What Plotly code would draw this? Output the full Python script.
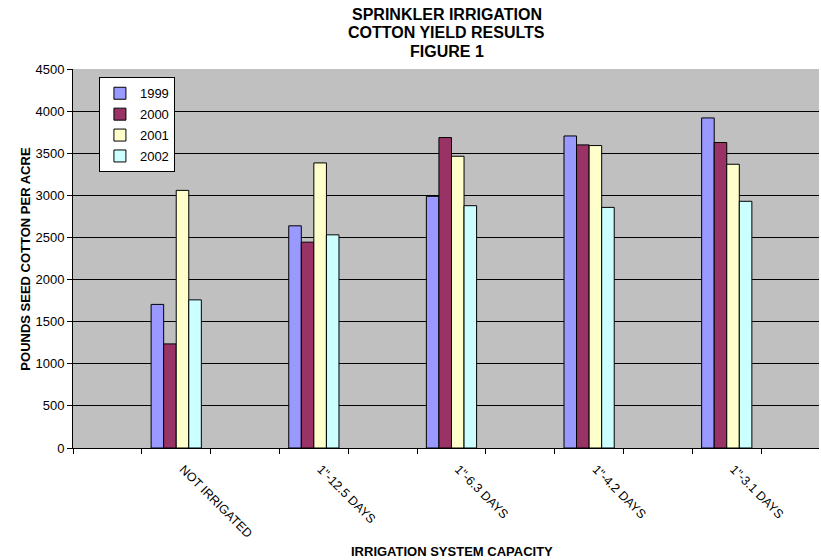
import plotly.graph_objects as go

# ---- data ----
capacity = ["NOT IRRIGATED", '1"-12.5 DAYS', '1"-6.3 DAYS', '1"-4.2 DAYS', '1"-3.1 DAYS']
years = ["1999", "2000", "2001", "2002"]
y1999 = [1705, 2638, 2988, 3705, 3919]
y2000 = [1236, 2444, 3686, 3599, 3627]
y2001 = [3059, 3385, 3464, 3591, 3369]
y2002 = [1759, 2531, 2877, 2857, 2929]
y_ticks = [0, 500, 1000, 1500, 2000, 2500, 3000, 3500, 4000, 4500]
title_lines = ["SPRINKLER IRRIGATION", "COTTON YIELD RESULTS", "FIGURE 1"]

series = [y1999, y2000, y2001, y2002]
colors = ["#9999FF", "#993366", "#FFFFCC", "#CCFFFF"]

# The original Excel chart has an empty category slot between every group
slots = []
for i, name in enumerate(capacity):
    slots.append(" " * (i + 1))
    slots.append(name)
slots.append(" " * (len(capacity) + 1))


def expand(values):
    out = []
    for v in values:
        out.append(None)
        out.append(v)
    out.append(None)
    return out


FONT = "Liberation Sans, Arial, sans-serif"

# page body margin is removed in the page (post_script), so figure px = page px
W, H = 821, 560
L, R, T = 73, 0, 69
plot_h = 378.8
B = H - T - plot_h
plot_w = W - L - R
slot_px = 69.0


def px_x(xp):  # page x -> paper
    return (xp - L) / plot_w


def px_y(yp):  # page y -> paper
    return (T + plot_h - yp) / plot_h


fig = go.Figure()
for yr, vals, col in zip(years, series, colors):
    fig.add_trace(go.Bar(
        x=slots, y=expand(vals), name=yr, legendgroup=yr,
        marker=dict(color=col, line=dict(color="black", width=1)),
    ))

fig.update_layout(
    width=W, height=H,
    margin=dict(l=L, r=R, t=T, b=B, pad=0),
    paper_bgcolor="white",
    plot_bgcolor="#C0C0C0",
    font=dict(family=FONT, size=13, color="black"),
    barmode="group",
    bargap=0.27,
    bargroupgap=0,
    xaxis=dict(
        type="category",
        categoryorder="array", categoryarray=slots,
        range=[-0.5, -0.5 + plot_w / slot_px],
        tickson="boundaries",
        ticks="outside", ticklen=5, tickcolor="black", tickwidth=1,
        tickangle=45,
        ticklabelstandoff=8,
        ticklabelshift=7,
        showline=True, linecolor="black", linewidth=1,
        showgrid=False, zeroline=False,
        tickfont=dict(family=FONT, size=12.5, color="black"),
        fixedrange=True,
    ),
    yaxis=dict(
        range=[0, 4500],
        tickvals=y_ticks,
        ticktext=[str(v) for v in y_ticks],
        ticks="outside", ticklen=5, tickcolor="black", tickwidth=1,
        showline=True, linecolor="black", linewidth=1,
        showgrid=True, gridcolor="black", gridwidth=1,
        zeroline=False,
        tickfont=dict(family=FONT, size=13, color="black"),
    ),
    legend=dict(
        x=px_x(99), y=px_y(77.3),
        xanchor="left", yanchor="top",
        bgcolor="white", bordercolor="black", borderwidth=1,
        font=dict(family=FONT, size=13, color="black"),
        traceorder="grouped",
        tracegroupgap=1,
        itemwidth=30,
    ),
    showlegend=True,
)

for line, yc in zip(title_lines, [15, 33, 52]):
    fig.add_annotation(
        text="<b>" + line + "</b>",
        xref="paper", yref="paper",
        x=px_x(448), y=px_y(yc),
        xanchor="center", yanchor="middle", showarrow=False,
        font=dict(family=FONT, size=16, color="black"),
    )

fig.add_annotation(
    text="<b>IRRIGATION SYSTEM CAPACITY</b>",
    xref="paper", yref="paper",
    x=px_x(453), y=px_y(551),
    xanchor="center", yanchor="middle", showarrow=False,
    font=dict(family=FONT, size=13, color="black"),
)
fig.add_annotation(
    text="<b>POUNDS SEED COTTON PER ACRE</b>",
    xref="paper", yref="paper",
    x=px_x(25), y=0.5,
    xanchor="center", yanchor="middle", showarrow=False, textangle=-90,
    font=dict(family=FONT, size=13, color="black"),
)

fig.write_html(
    "out.html",
    config={"displayModeBar": False},
    post_script="document.body.style.margin='0';document.body.style.overflow='hidden';",
)
